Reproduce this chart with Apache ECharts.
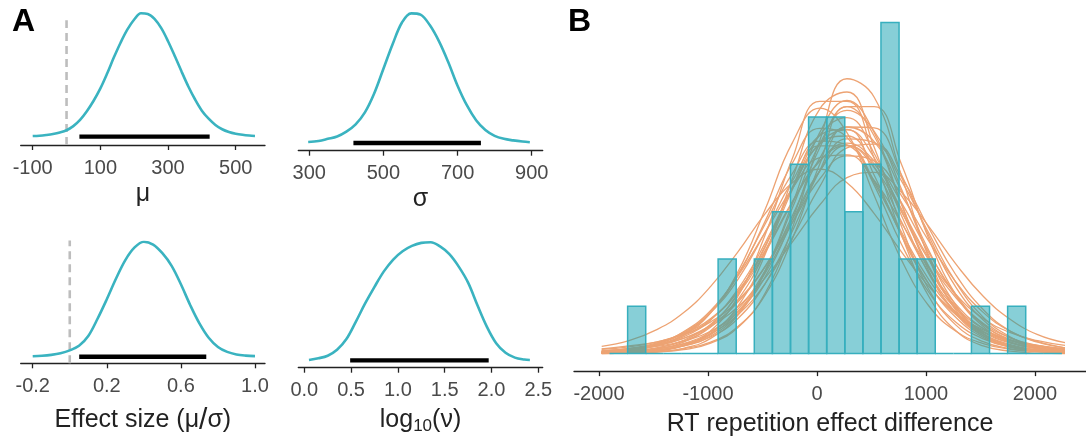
<!DOCTYPE html>
<html><head><meta charset="utf-8">
<script src="https://cdn.jsdelivr.net/npm/echarts@6.0.0/dist/echarts.min.js"></script>
<style>html,body{margin:0;padding:0;background:#fff;}#c{width:1086px;height:444px;}</style>
</head><body><div id="c"></div>
<script>
// ---------- Panel A: posterior densities (relative height, peak = 1) ----------
const muX = [-100,-80,-60,-40,-20,0,20,40,60,80,100,120,140,160,180,200,220,240,260,280,300,320,340,360,380,400,420,440,460,480,500,520,540,557];
const muY = [0.005,0.008,0.014,0.022,0.034,0.052,0.085,0.135,0.205,0.29,0.39,0.51,0.64,0.76,0.865,0.945,0.995,0.99,0.95,0.875,0.77,0.65,0.525,0.405,0.30,0.21,0.145,0.095,0.06,0.038,0.024,0.015,0.009,0.006];
const sigmaX = [297,325,350,375,400,425,450,475,500,525,550,575,600,625,650,675,700,725,750,775,800,825,850,875,895];
const sigmaY = [0.008,0.016,0.032,0.05,0.087,0.143,0.235,0.38,0.57,0.76,0.925,0.995,0.985,0.905,0.78,0.62,0.44,0.29,0.175,0.10,0.055,0.032,0.02,0.011,0.006];
const effX = [-0.2,-0.15,-0.1,-0.05,0,0.05,0.1,0.15,0.2,0.25,0.3,0.35,0.4,0.45,0.5,0.55,0.6,0.65,0.7,0.75,0.8,0.85,0.9,0.95,1.0];
const effY = [0.004,0.008,0.016,0.03,0.055,0.095,0.18,0.33,0.50,0.68,0.84,0.95,1.0,0.975,0.9,0.79,0.63,0.45,0.29,0.165,0.085,0.042,0.02,0.01,0.005];
const nuX = [0.05,0.15,0.25,0.35,0.45,0.55,0.65,0.75,0.85,0.95,1.05,1.15,1.25,1.35,1.45,1.55,1.65,1.75,1.85,1.95,2.05,2.15,2.25,2.35,2.41];
const nuY = [0.004,0.018,0.04,0.09,0.18,0.325,0.48,0.62,0.75,0.85,0.92,0.965,0.99,0.995,0.96,0.895,0.79,0.655,0.465,0.285,0.145,0.065,0.024,0.008,0.004];

const muHDI = [38, 423];
const sigmaHDI = [419, 763];
const effHDI = [0.051, 0.737];
const nuHDI = [0.49, 1.97];
const compVal = 0;

const muTicks = [-100, 100, 300, 500];
const sigmaTicks = [300, 500, 700, 900];
const effTicks = [-0.2, 0.2, 0.6, 1.0];
const effTickLabels = ['-0.2', '0.2', '0.6', '1.0'];
const nuTicks = [0, 0.5, 1, 1.5, 2, 2.5];
const nuTickLabels = ['0.0', '0.5', '1.0', '1.5', '2.0', '2.5'];

// ---------- Panel B: histogram of data + posterior predictive curves ----------
const binLefts = [-1903,-1737,-1571,-1405,-1239,-1073,-907,-741,-575,-409,-243,-77,89,255,421,587,753,919,1085,1251,1417,1583,1749,1915,2081];
const binWidth = 166;
const binCounts = [0,1,0,0,0,0,2,0,2,3,4,5,5,3,4,7,2,2,0,0,1,0,1,0,0];
const rtTicks = [-2000, -1000, 0, 1000, 2000];

const ppcX = [-1975,-1725,-1475,-1225,-975,-725,-475,-225,25,275,525,775,1025,1275,1525,1775,2025,2275];
const ppcY = [
 [0.01,0.03,0.07,0.16,0.37,0.84,1.75,3.17,4.67,5.35,4.67,3.17,1.75,0.84,0.37,0.16,0.07,0.03],
 [0.00,0.01,0.05,0.16,0.48,1.21,2.51,4.13,5.33,5.33,4.13,2.51,1.21,0.48,0.16,0.05,0.01,0.00],
 [0.01,0.02,0.04,0.10,0.24,0.57,1.24,2.43,4.00,5.22,5.22,4.00,2.43,1.24,0.57,0.24,0.10,0.04],
 [0.15,0.27,0.50,0.86,1.42,2.15,2.96,3.61,3.90,3.61,2.96,2.15,1.42,0.86,0.50,0.27,0.15,0.08],
 [0.01,0.01,0.03,0.08,0.22,0.55,1.28,2.66,4.50,5.81,5.42,3.76,2.03,0.91,0.38,0.15,0.06,0.02],
 [0.01,0.03,0.07,0.18,0.43,1.00,2.10,3.70,5.17,5.53,4.36,2.69,1.36,0.60,0.25,0.10,0.04,0.02],
 [0.10,0.16,0.24,0.40,0.67,1.12,1.85,2.84,3.86,4.40,4.01,3.06,2.02,1.25,0.74,0.44,0.27,0.17],
 [0.04,0.09,0.20,0.43,0.87,1.65,2.80,4.03,4.76,4.57,3.56,2.31,1.30,0.66,0.31,0.14,0.07,0.03],
 [0.02,0.05,0.10,0.20,0.42,0.82,1.48,2.45,3.53,4.35,4.43,3.73,2.66,1.66,0.93,0.47,0.24,0.12],
 [0.01,0.03,0.09,0.24,0.60,1.27,2.28,3.50,4.44,4.73,4.14,3.01,1.85,0.96,0.42,0.17,0.06,0.02],
 [0.03,0.08,0.17,0.39,0.86,1.73,3.05,4.46,5.19,4.67,3.34,1.98,1.01,0.47,0.21,0.09,0.04,0.02],
 [0.04,0.08,0.16,0.32,0.60,1.09,1.83,2.77,3.69,4.18,4.07,3.34,2.38,1.51,0.87,0.47,0.25,0.12],
 [0.09,0.14,0.24,0.42,0.74,1.31,2.25,3.52,4.61,4.74,3.77,2.49,1.47,0.82,0.46,0.27,0.16,0.10],
 [0.00,0.01,0.03,0.11,0.32,0.81,1.73,3.08,4.43,5.14,4.70,3.48,2.08,1.02,0.42,0.14,0.04,0.01],
 [0.05,0.10,0.19,0.38,0.72,1.32,2.18,3.22,4.07,4.40,3.93,3.00,1.98,1.18,0.64,0.33,0.17,0.08],
 [0.02,0.06,0.16,0.40,0.88,1.68,2.74,3.81,4.49,4.41,3.61,2.52,1.48,0.76,0.34,0.13,0.05,0.02],
 [0.02,0.03,0.07,0.16,0.35,0.74,1.48,2.59,3.87,4.79,4.77,3.78,2.49,1.40,0.71,0.33,0.15,0.07],
 [0.05,0.10,0.17,0.32,0.58,0.99,1.60,2.36,3.14,3.72,3.83,3.41,2.69,1.89,1.21,0.72,0.40,0.23],
 [0.04,0.08,0.17,0.35,0.71,1.36,2.34,3.50,4.43,4.60,3.94,2.79,1.71,0.94,0.47,0.23,0.11,0.05],
 [0.02,0.05,0.10,0.21,0.46,0.94,1.76,2.92,4.13,4.79,4.48,3.43,2.18,1.22,0.61,0.29,0.13,0.06],
 [0.01,0.04,0.11,0.28,0.62,1.24,2.14,3.19,4.07,4.45,4.07,3.19,2.14,1.24,0.62,0.28,0.11,0.04],
 [0.05,0.11,0.22,0.45,0.87,1.57,2.57,3.65,4.39,4.39,3.65,2.57,1.57,0.87,0.45,0.22,0.11,0.05],
 [0.01,0.02,0.06,0.17,0.40,0.89,1.70,2.77,3.85,4.54,4.46,3.65,2.55,1.50,0.77,0.35,0.13,0.05],
 [0.02,0.05,0.12,0.26,0.56,1.14,2.15,3.47,4.62,4.99,4.23,2.92,1.69,0.87,0.41,0.19,0.08,0.04],
 [0.06,0.09,0.15,0.26,0.47,0.88,1.62,2.85,4.35,5.22,4.60,3.15,1.83,0.99,0.53,0.29,0.17,0.10],
 [0.03,0.08,0.20,0.46,0.91,1.64,2.56,3.49,4.14,4.20,3.66,2.76,1.81,1.04,0.53,0.24,0.10,0.04]
];

// ---------- styling / layout ----------
const FONT = 'Liberation Sans';
const TEAL = '#3AB3C0';
const AXIS_COL = '#222';
const LABEL_COL = '#4a4a4a';
const NAME_COL = '#222';

function pickLabel(ticks, labels) {
  return function (v) {
    let best = 0;
    for (let i = 1; i < ticks.length; i++) if (Math.abs(ticks[i] - v) < Math.abs(ticks[best] - v)) best = i;
    return labels ? labels[best] : String(ticks[best]);
  };
}

const nameBase = { fontFamily: FONT, fontSize: 25, color: NAME_COL, lineHeight: 30 };

function makeX(gi, min, max, ticks, labels, name, gap, rich) {
  return {
    type: 'value', gridIndex: gi, min: min, max: max,
    splitLine: { show: false },
    axisLine: { show: true, onZero: false, lineStyle: { color: AXIS_COL, width: 1.3 } },
    axisTick: { show: true, customValues: ticks, length: 5, lineStyle: { color: AXIS_COL, width: 1.3 } },
    axisLabel: { show: true, customValues: ticks, formatter: pickLabel(ticks, labels), margin: 13,
      fontFamily: FONT, fontSize: 20, lineHeight: 20, color: LABEL_COL },
    name: name, nameLocation: 'middle', nameGap: gap,
    nameTextStyle: Object.assign({}, nameBase, rich ? { rich: rich } : {})
  };
}
function makeY(gi, min, max) {
  return { type: 'value', gridIndex: gi, min: min, max: max, show: false, splitLine: { show: false } };
}
function zip(xs, ys) { return xs.map((x, i) => [x, ys[i]]); }

const grids = [
  { left: 20.7, width: 244.3, top: 12.7, bottom: 299 },
  { left: 298.3, width: 244.4, top: 12.7, bottom: 293.3 },
  { left: 20.7, width: 244.3, top: 241.7, bottom: 80.7 },
  { left: 298.3, width: 244.4, top: 241.7, bottom: 76.3 },
  { left: 574, right: 0, top: 22.5, bottom: 70.3 }
];

const richEff = {
  t: { fontFamily: FONT, fontSize: 25, color: NAME_COL, lineHeight: 30 },
  s: { fontFamily: FONT, fontSize: 30, color: NAME_COL, lineHeight: 30 }
};
const richNu = {
  t: { fontFamily: FONT, fontSize: 25, color: NAME_COL, lineHeight: 30 },
  s: { fontFamily: FONT, fontSize: 17, color: NAME_COL, lineHeight: 16, verticalAlign: 'bottom' }
};

const xAxes = [
  makeX(0, -135.5, 586.6, muTicks, null, 'μ', 32),
  makeX(1, 270.3, 929.7, sigmaTicks, null, 'σ', 32),
  makeX(2, -0.2648, 1.054, effTicks, effTickLabels, '{t|Effect size (μ}{s|/}{t|σ)}', 42, richEff),
  makeX(3, -0.064, 2.547, nuTicks, nuTickLabels, '{t|log}{s|10}{t|(ν)}', 37, richNu),
  makeX(4, -2229, 2468, rtTicks, null, 'RT repetition effect difference', 37)
];
const yAxes = [
  makeY(0, -0.067, 1),
  makeY(1, -0.059, 1),
  makeY(2, -0.057, 1),
  makeY(3, -0.061, 1),
  makeY(4, -0.372, 7)
];

function densityLine(gi, xs, ys) {
  return { type: 'line', xAxisIndex: gi, yAxisIndex: gi, data: zip(xs, ys), smooth: 0.35,
    showSymbol: false, symbol: 'none', silent: true, z: 3,
    lineStyle: { color: TEAL, width: 2.6 } };
}
function hdiLine(gi, hdi) {
  return { type: 'line', xAxisIndex: gi, yAxisIndex: gi, data: [[hdi[0], 0], [hdi[1], 0]],
    showSymbol: false, symbol: 'none', silent: true, z: 4,
    lineStyle: { color: '#000', width: 4.3, cap: 'butt' } };
}
function compLine(gi, ymin, ytop) {
  return { type: 'line', xAxisIndex: gi, yAxisIndex: gi, data: [[compVal, ymin], [compVal, ytop]],
    showSymbol: false, symbol: 'none', silent: true, z: 2,
    lineStyle: { color: '#BDBDBD', width: 2.6, type: [8, 5] } };
}

const series = [
  compLine(0, -0.067, 0.94), densityLine(0, muX, muY), hdiLine(0, muHDI),
  densityLine(1, sigmaX, sigmaY), hdiLine(1, sigmaHDI),
  compLine(2, -0.057, 1.03), densityLine(2, effX, effY), hdiLine(2, effHDI),
  densityLine(3, nuX, nuY), hdiLine(3, nuHDI)
];
ppcY.forEach(function (ys) {
  series.push({ type: 'line', xAxisIndex: 4, yAxisIndex: 4, data: zip(ppcX, ys), smooth: 0.45,
    showSymbol: false, symbol: 'none', silent: true, z: 2,
    lineStyle: { color: '#EDA373', width: 1.3 } });
});
series.push({
  type: 'custom', xAxisIndex: 4, yAxisIndex: 4, z: 5, silent: true,
  data: binLefts.map((l, i) => [l, l + binWidth, binCounts[i]]),
  renderItem: function (params, api) {
    const p0 = api.coord([api.value(0), api.value(2)]);
    const p1 = api.coord([api.value(1), 0]);
    return { type: 'rect',
      shape: { x: p0[0], y: p0[1], width: p1[0] - p0[0], height: p1[1] - p0[1] },
      style: { fill: 'rgba(15,159,175,0.5)', stroke: '#37AFBE', lineWidth: 1.5 } };
  }
});

const chart = echarts.init(document.getElementById('c'), null, { renderer: 'canvas' });
chart.setOption({
  animation: false,
  backgroundColor: '#fff',
  grid: grids,
  xAxis: xAxes,
  yAxis: yAxes,
  series: series,
  graphic: [
    { type: 'text', x: 12, y: 22, style: { text: 'A', font: 'bold 32px "Liberation Sans"', fill: '#000', verticalAlign: 'middle' } },
    { type: 'text', x: 568, y: 22, style: { text: 'B', font: 'bold 32px "Liberation Sans"', fill: '#000', verticalAlign: 'middle' } }
  ]
});
</script></body></html>
